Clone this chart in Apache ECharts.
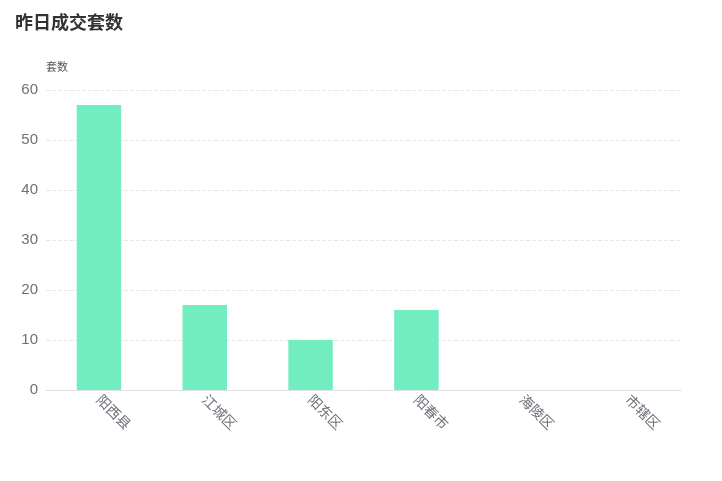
<!DOCTYPE html>
<html><head><meta charset="utf-8">
<script src="https://cdn.jsdelivr.net/npm/echarts@6/dist/echarts.min.js"></script>
<style>html,body{margin:0;padding:0;background:#fff}#c{width:722px;height:481px}</style>
</head><body><div id="c"></div>
<script>
const categories = ['阳西县','江城区','阳东区','阳春市','海陵区','市辖区'];
const values = [57, 17, 10, 16, 0, 0];
const yTicks = {min: 0, max: 60, interval: 10};
const chart = echarts.init(document.getElementById('c'));
chart.setOption({
  title: {text: '昨日成交套数', left: 10, top: 8, textStyle: {fontSize: 18, fontWeight: 'bold', color: '#333', fontFamily: 'Noto Sans CJK SC'}},
  grid: {left: 46, right: 41, top: 90, bottom: 91},
  xAxis: {type: 'category', data: categories,
    axisLine: {lineStyle: {color: '#e0e0e0'}}, axisTick: {show: false},
    axisLabel: {rotate: -45, color: '#6e7079', fontSize: 14, margin: 7, fontFamily: 'Noto Sans CJK SC'}},
  yAxis: {type: 'value', min: yTicks.min, max: yTicks.max, interval: yTicks.interval,
    name: '套数', nameTextStyle: {color: '#555', fontSize: 11, align: 'center', padding: [0, 0, 4, 22], fontFamily: 'Noto Sans CJK SC'}, nameGap: 14,
    axisLine: {show: false}, axisTick: {show: false},
    axisLabel: {color: '#6e7079', fontSize: 15, margin: 8},
    splitLine: {lineStyle: {type: 'dashed', color: '#e8e8e8'}}},
  series: [{type: 'bar', data: values, barWidth: '42%', itemStyle: {color: '#72EDBF'}}]
});
</script></body></html>
